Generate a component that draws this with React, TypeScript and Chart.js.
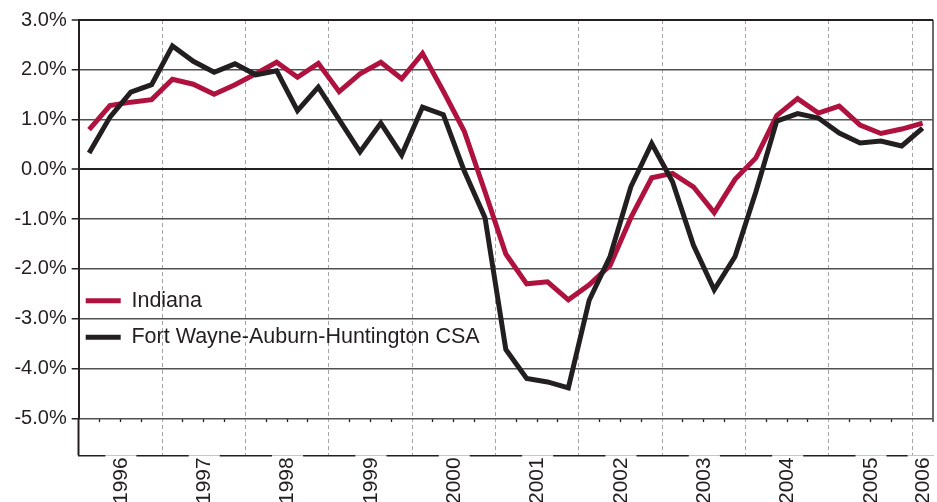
import React, { useEffect, useRef } from 'react';
import { Chart, registerables } from 'chart.js';

Chart.register(...registerables);

// ---------- data ----------
const quarters: string[] = [
  '1996 Q1', '1996 Q2', '1996 Q3', '1996 Q4',
  '1997 Q1', '1997 Q2', '1997 Q3', '1997 Q4',
  '1998 Q1', '1998 Q2', '1998 Q3', '1998 Q4',
  '1999 Q1', '1999 Q2', '1999 Q3', '1999 Q4',
  '2000 Q1', '2000 Q2', '2000 Q3', '2000 Q4',
  '2001 Q1', '2001 Q2', '2001 Q3', '2001 Q4',
  '2002 Q1', '2002 Q2', '2002 Q3', '2002 Q4',
  '2003 Q1', '2003 Q2', '2003 Q3', '2003 Q4',
  '2004 Q1', '2004 Q2', '2004 Q3', '2004 Q4',
  '2005 Q1', '2005 Q2', '2005 Q3', '2005 Q4',
  '2006 Q1',
];

const yearLabels: string[] = [
  '1996', '1997', '1998', '1999', '2000', '2001',
  '2002', '2003', '2004', '2005', '2006',
];

const indiana: number[] = [
  0.80, 1.28, 1.35, 1.40,
  1.81, 1.71, 1.51, 1.70,
  1.92, 2.15, 1.85, 2.13,
  1.56, 1.92, 2.15, 1.82,
  2.33, 1.57, 0.77, -0.45,
  -1.70, -2.30, -2.26, -2.62,
  -2.32, -1.93, -0.97, -0.17,
  -0.08, -0.35, -0.87, -0.20,
  0.23, 1.08, 1.42, 1.13,
  1.27, 0.89, 0.72, 0.81,
  0.93,
];

const fortWayne: number[] = [
  0.33, 1.05, 1.55, 1.70,
  2.48, 2.17, 1.95, 2.12,
  1.90, 1.98, 1.18, 1.65,
  1.00, 0.35, 0.93, 0.29,
  1.25, 1.10, -0.03, -0.97,
  -3.62, -4.20, -4.27, -4.39,
  -2.63, -1.75, -0.35, 0.52,
  -0.25, -1.52, -2.42, -1.75,
  -0.45, 0.97, 1.12, 1.03,
  0.73, 0.53, 0.57, 0.47,
  0.83,
];

const yTickValues: number[] = [-5, -4, -3, -2, -1, 0, 1, 2, 3];
const yTickLabels: string[] = ['-5.0%', '-4.0%', '-3.0%', '-2.0%', '-1.0%', '0.0%', '1.0%', '2.0%', '3.0%'];

// ---------- styles ----------
const TEXT = '#231f20';
const RED = '#b0123f';
const BLACK = '#231f20';
const DASH_GRAY = '#a5a5a5';
const EDGE_GRAY = '#6b6b6b';
const FONT = "'Liberation Sans', Arial, Helvetica, sans-serif";

// centre of each year's run of quarters, in quarter units (linear label axis)
const yearCenters: number[] = yearLabels.map((y) => {
  const idx = quarters.map((q, i) => (q.startsWith(y) ? i : -1)).filter((i) => i >= 0);
  return (idx[0] + idx[idx.length - 1] + 1) / 2;
});

function lineKind(c: any): string {
  const i = c && c.index;
  if (i === undefined || i === null || i >= quarters.length) return 'right';
  if (i === 0) return 'left';
  if (quarters[i].endsWith('Q1')) return 'year';
  return 'quarter';
}

export default function App() {
  const ref = useRef<HTMLCanvasElement>(null);

  useEffect(() => {
    const canvas = ref.current;
    if (!canvas) return;
    Chart.defaults.font.family = FONT;
    const chart = new Chart(canvas, {
      type: 'line',
      data: {
        labels: quarters,
        datasets: [
          {
            label: 'Indiana',
            data: indiana,
            borderColor: RED,
            backgroundColor: RED,
            borderWidth: 5,
            pointRadius: 0,
            tension: 0,
            borderJoinStyle: 'miter',
            order: 2,
            xAxisID: 'x',
            yAxisID: 'y',
          },
          {
            label: 'Fort Wayne-Auburn-Huntington CSA',
            data: fortWayne,
            borderColor: BLACK,
            backgroundColor: BLACK,
            borderWidth: 5,
            pointRadius: 0,
            tension: 0,
            borderJoinStyle: 'miter',
            order: 1,
            xAxisID: 'x',
            yAxisID: 'y',
          },
        ],
      },
      options: {
        animation: false,
        responsive: false,
        devicePixelRatio: 1,
        layout: { padding: { top: 20, right: 4, bottom: 0, left: 0 } },
        plugins: {
          tooltip: { enabled: false },
          legend: {
            position: 'chartArea',
            align: 'start',
            title: {
              display: true,
              text: '',
              padding: { top: 268.6, bottom: 0 },
              font: { size: 12, lineHeight: 1.2 },
            },
            labels: {
              boxWidth: 35,
              boxHeight: 5,
              padding: 7,
              color: TEXT,
              font: { size: 21.5, lineHeight: 1.37, family: FONT },
              generateLabels: (ch: any) =>
                ch.data.datasets.map((ds: any, i: number) => ({
                  text: [ds.label],
                  fillStyle: ds.borderColor,
                  strokeStyle: ds.borderColor,
                  lineWidth: 0,
                  hidden: false,
                  datasetIndex: i,
                  fontColor: TEXT,
                })),
            },
          },
        },
        scales: {
          x: {
            type: 'category',
            position: 'bottom',
            offset: true,
            weight: 0,
            grid: {
              offset: true,
              display: true,
              drawOnChartArea: true,
              drawTicks: true,
              tickLength: 37,
              color: (c: any) => {
                const k = lineKind(c);
                if (k === 'year') return DASH_GRAY;
                if (k === 'right') return EDGE_GRAY;
                return 'rgba(0,0,0,0)';
              },
              lineWidth: (c: any) => (lineKind(c) === 'right' ? 2 : 1),
              tickColor: (c: any) => {
                const k = lineKind(c);
                if (k === 'year') return DASH_GRAY;
                if (k === 'right') return EDGE_GRAY;
                return BLACK;
              },
              tickWidth: (c: any) => {
                const k = lineKind(c);
                if (k === 'year') return 1;
                if (k === 'quarter') return 1.3;
                return 2;
              },
              tickBorderDash: (c: any) => {
                const k = lineKind(c);
                if (k === 'left') return [];
                if (k === 'year') return [4, 3];
                return [4, 80];
              },
            },
            border: {
              display: false,
              dash: (c: any) => (lineKind(c) === 'year' ? [4, 3] : []),
            },
            ticks: { display: false, autoSkip: false },
          },
          xl: {
            type: 'linear',
            axis: 'x',
            position: 'bottom',
            weight: 1,
            min: 0,
            max: quarters.length,
            afterBuildTicks: (s: any) => {
              s.ticks = yearCenters.map((v) => ({ value: v }));
            },
            afterFit: (s: any) => {
              s.paddingLeft = 0;
              s.paddingRight = 0;
            },
            grid: { display: false, drawTicks: false, drawOnChartArea: false },
            border: { display: true, color: BLACK, width: 1.5 },
            ticks: {
              autoSkip: false,
              minRotation: 90,
              maxRotation: 90,
              padding: 2,
              color: TEXT,
              font: { size: 21, family: FONT, lineHeight: 0.05 },
              showLabelBackdrop: true,
              backdropColor: '#ffffff',
              backdropPadding: { top: 15, bottom: 15, left: 0, right: 4 },
              callback: (_v: any, i: number) => yearLabels[i],
            },
          },
          y: {
            type: 'linear',
            position: 'left',
            min: -5,
            max: 3,
            afterBuildTicks: (s: any) => {
              s.ticks = yTickValues.map((v) => ({ value: v }));
            },
            afterFit: (s: any) => {
              s.width = 78.7;
            },
            grid: {
              color: (c: any) => {
                const v = c.tick ? c.tick.value : NaN;
                return v === 0 || v === 3 ? BLACK : '#505050';
              },
              lineWidth: (c: any) => {
                const v = c.tick ? c.tick.value : NaN;
                return v === 0 || v === 3 ? 2 : 1.5;
              },
              tickColor: BLACK,
              tickWidth: 1.5,
              tickLength: 7,
            },
            border: { display: true, color: BLACK, width: 2 },
            ticks: {
              color: TEXT,
              padding: 5,
              font: { size: 20, family: FONT },
              callback: (_v: any, i: number) => yTickLabels[i],
            },
          },
        },
      } as any,
    });
    return () => chart.destroy();
  }, []);

  return (
    <div
      style={{
        position: 'absolute',
        left: 0,
        top: 0,
        width: 937,
        height: 502,
        overflow: 'hidden',
        background: '#ffffff',
      }}
    >
      <canvas ref={ref} width={937} height={506} style={{ display: 'block' }} />
    </div>
  );
}
